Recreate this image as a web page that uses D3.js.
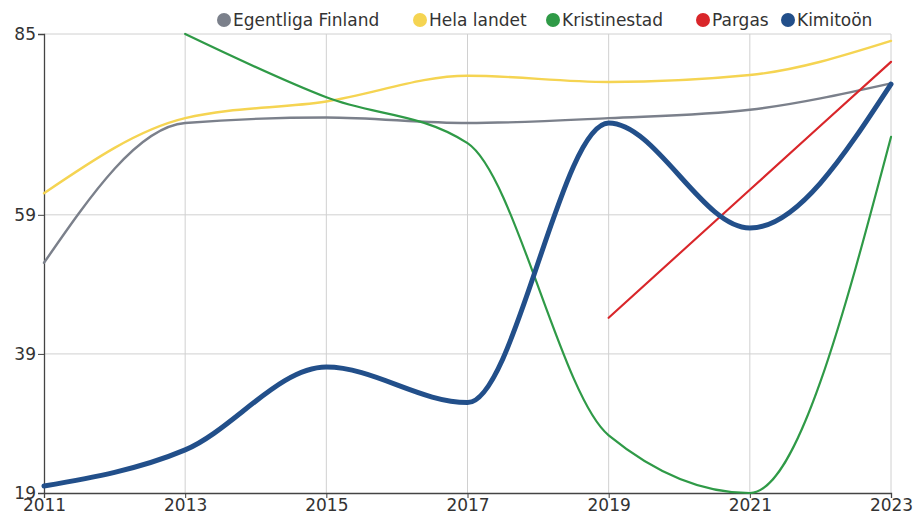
<!DOCTYPE html>
<html><head><meta charset="utf-8">
<script src="https://cdn.jsdelivr.net/npm/d3@7"></script>
<style>
html,body{margin:0;padding:0;background:#fff;}
text{font-family:"DejaVu Sans",sans-serif;}
</style></head>
<body><svg id="c" width="914" height="520"></svg>
<script>
const years = [2011, 2013, 2015, 2017, 2019, 2021, 2023];
const yTicks = [19, 39, 59, 85];
const seriesNames = ["Egentliga Finland", "Hela landet", "Kristinestad", "Pargas", "Kimitoön"];
const egentligaFinland = [52.1, 72.2, 73.0, 72.2, 72.9, 74.1, 77.9];
const helaLandet = [62.1, 72.9, 75.3, 79.0, 78.1, 79.1, 84.0];
const kristinestad = [null, 85, 75.9, 69.3, 27.3, 19, 70.2];
const pargas = [null, null, null, null, 44.2, 62.6, 81.0];
const kimitoon = [20.0, 25.2, 37.1, 32.0, 72.2, 57.1, 77.8];
const colors = ["#7b808b", "#f5d452", "#2f9a47", "#d9262a", "#224f8a"];
const widths = [2.4, 2.4, 2.2, 2.2, 5];
const legendX = [224, 420, 553, 703, 788];

const values = [egentligaFinland, helaLandet, kristinestad, pargas, kimitoon];
const svg = d3.select("#c");
const m = {l:44, r:891, t:34, b:493};
const x = d3.scaleLinear().domain([2011, 2023]).range([m.l, m.r]);
const y = d3.scaleLinear().domain([19, 85]).range([m.b, m.t]);

// grid
svg.append("g").selectAll("line").data(years.slice(1)).join("line")
  .attr("x1", d=>x(d)).attr("x2", d=>x(d)).attr("y1", m.t).attr("y2", m.b)
  .attr("stroke", "#d0d0d0").attr("stroke-width", 1);
svg.append("g").selectAll("line").data(yTicks.slice(1)).join("line")
  .attr("x1", m.l).attr("x2", m.r).attr("y1", d=>y(d)).attr("y2", d=>y(d))
  .attr("stroke", "#d0d0d0").attr("stroke-width", 1);

// axes
const xa = svg.append("g").attr("transform", `translate(0,${m.b})`)
  .call(d3.axisBottom(x).tickValues(years).tickFormat(d3.format("d")).tickSizeOuter(0).tickSize(5));
const ya = svg.append("g").attr("transform", `translate(${m.l},0)`)
  .call(d3.axisLeft(y).tickValues(yTicks).tickSizeOuter(0).tickSize(6));
[xa, ya].forEach(a => {
  a.select(".domain").attr("stroke", "#444").attr("stroke-width", 1.3);
  a.selectAll(".tick line").attr("stroke", "#444");
  a.selectAll("text").attr("font-size", 17).attr("fill", "#333").attr("font-family", "DejaVu Sans");
});
xa.selectAll("text").attr("dy", "0.71em").attr("y", 6);
ya.selectAll("text").attr("x", -8);

// lines
const line = d3.line().defined(d => d[1] != null).x(d => x(d[0])).y(d => y(d[1])).curve(d3.curveMonotoneX);
values.forEach((vals, i) => {
  const pts = years.map((yr, j) => [yr, vals[j]]).filter(d => d[1] != null);
  svg.append("path").datum(pts).attr("d", line).attr("fill", "none")
    .attr("stroke", colors[i]).attr("stroke-width", widths[i]).attr("stroke-linecap", "round");
});

// legend
const lg = svg.append("g");
seriesNames.forEach((n, i) => {
  lg.append("circle").attr("cx", legendX[i]).attr("cy", 20).attr("r", 7).attr("fill", colors[i]);
  lg.append("text").attr("x", legendX[i] + 9).attr("y", 20).attr("dy", "0.35em")
    .attr("font-size", 17).attr("fill", "#333").text(n);
});
</script></body></html>
